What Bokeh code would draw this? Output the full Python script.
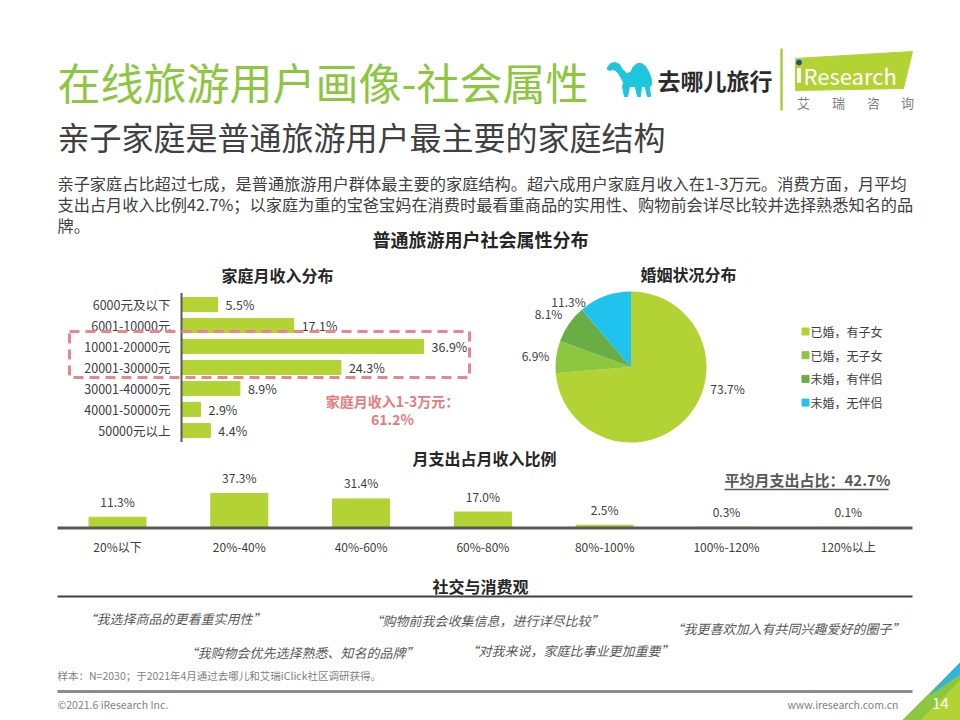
import numpy as np
from bokeh.plotting import figure
from bokeh.models import Range1d, ColumnDataSource
from bokeh.layouts import column, row
from bokeh.core.properties import value
from bokeh.embed import file_html
from bokeh.resources import INLINE

FONT = "Noto Sans CJK SC"

# ---------------- data ----------------
income_cats = ["6000元及以下", "6001-10000元", "10001-20000元", "20001-30000元",
               "30001-40000元", "40001-50000元", "50000元以上"]
income_vals = [5.5, 17.1, 36.9, 24.3, 8.9, 2.9, 4.4]
income_highlight = 61.2

marital_cats = ["已婚，有子女", "已婚，无子女", "未婚，有伴侣", "未婚，无伴侣"]
marital_vals = [73.7, 6.9, 8.1, 11.3]

spend_cats = ["20%以下", "20%-40%", "40%-60%", "60%-80%", "80%-100%", "100%-120%", "120%以上"]
spend_vals = [11.3, 37.3, 31.4, 17.0, 2.5, 0.3, 0.1]
avg_spend = 42.7

quotes = ["“我选择商品的更看重实用性”", "“购物前我会收集信息，进行详尽比较”",
          "“我更喜欢加入有共同兴趣爱好的圈子”", "“我购物会优先选择熟悉、知名的品牌”",
          "“对我来说，家庭比事业更加重要”"]

title_text = "在线旅游用户画像-社会属性"
subtitle_text = "亲子家庭是普通旅游用户最主要的家庭结构"
para_lines = ["亲子家庭占比超过七成，是普通旅游用户群体最主要的家庭结构。超六成用户家庭月收入在1-3万元。消费方面，月平均",
              "支出占月收入比例42.7%；以家庭为重的宝爸宝妈在消费时最看重商品的实用性、购物前会详尽比较并选择熟悉知名的品",
              "牌。"]
footnote = "样本：N=2030；于2021年4月通过去哪儿和艾瑞iClick社区调研获得。"

# ---------------- style ----------------
GREEN = "#B3D234"
TITLE_GREEN = "#8DC63F"
DARK = "#404040"
PIE_COLORS = ["#B3D234", "#8DC63F", "#68AD45", "#1FC3EE"]
PINK = "#E9868B"


def make_fig(x0, x1, y0, y1, x_range=None, y_range=None):
    p = figure(width=x1 - x0, height=y1 - y0, output_backend="svg", toolbar_location=None,
               tools="",
               x_range=x_range if x_range is not None else Range1d(x0, x1),
               y_range=y_range if y_range is not None else Range1d(y1, y0),
               x_axis_location=None, y_axis_location=None, min_border=0,
               outline_line_color=None, background_fill_color="white",
               border_fill_color="white")
    p.extra_x_ranges = {"px": Range1d(x0, x1)}
    p.extra_y_ranges = {"py": Range1d(y1, y0)}
    p.grid.visible = False
    return p


def txt(p, x, y, s, size, color=DARK, align="left", baseline="middle", style="normal"):
    p.text(x=[x], y=[y], text=[s], text_font=value(FONT), text_font_size=f"{size}px",
           text_color=color, text_align=align, text_baseline=baseline,
           text_font_style=style, x_range_name="px", y_range_name="py")


W = 960
Y_HEAD, Y_ROW, Y_SPEND, Y_FOOT, Y_END = 0, 258, 444, 562, 720
X_SPLIT = 498

# ---------------- header ----------------
hd = make_fig(0, W, Y_HEAD, Y_ROW)
txt(hd, 57, 80, title_text, 43, TITLE_GREEN)
txt(hd, 57, 135, subtitle_text, 32, DARK)
for i, line in enumerate(para_lines):
    txt(hd, 57, 182 + 21 * i, line, 16.2, DARK)
txt(hd, 480, 238, "普通旅游用户社会属性分布", 18, "#262626", align="center", style="bold")

# camel logo
camel_x = [607, 610, 615, 619, 622, 626, 630, 633, 637, 641, 645, 648, 650, 651, 651, 649, 650,
           647, 645, 645, 641, 640, 637, 635, 634, 629, 627, 624, 622, 623, 621, 618, 615, 612, 609, 607]
camel_y = [67, 63, 62, 64, 69, 73, 72, 66, 63, 63, 66, 71, 76, 80, 84, 87, 96,
           96, 88, 86, 86, 96, 96, 87, 86, 86, 96, 96, 86, 82, 78, 73, 70, 69, 70, 69]
hd.patch(camel_x, camel_y, color="#1DC6DA", x_range_name="px", y_range_name="py")
txt(hd, 657, 79, "去哪儿旅行", 23, "#2B2B2B", style="bold")
hd.segment(x0=[781], y0=[48], x1=[781], y1=[110], line_color="#A9CF38", line_width=2.5,
           x_range_name="px", y_range_name="py")
hd.patch([795, 912, 903, 795], [58, 51, 88, 90], color="#B3D234",
         x_range_name="px", y_range_name="py")
hd.quad(left=[797], right=[800], top=[68], bottom=[82], color="white",
        x_range_name="px", y_range_name="py")
hd.scatter(x=[798.5], y=[62], size=5, color="#1F4E9A", x_range_name="px", y_range_name="py")
txt(hd, 803, 74, "Research", 22, "white")
for cx, ch in zip([803, 838, 873, 907], "艾瑞咨询"):
    txt(hd, cx, 102, ch, 13, "#7F7F7F", align="center")

# ---------------- income bar chart ----------------
PX_PER_PCT = 6.56
AX_X = 181
ROW_H = 21
ROW0 = 304
inc = make_fig(0, X_SPLIT, Y_ROW, Y_SPEND,
               x_range=Range1d((0 - AX_X) / PX_PER_PCT, (X_SPLIT - AX_X) / PX_PER_PCT),
               y_range=Range1d((Y_SPEND - ROW0) / ROW_H, (Y_ROW - ROW0) / ROW_H))
n_inc = len(income_cats)
src_inc = ColumnDataSource(dict(y=list(range(n_inc)), v=income_vals, cat=income_cats,
                                lab=[f"{v}%" for v in income_vals]))
inc.hbar(y="y", left=0, right="v", height=0.67, source=src_inc, color=GREEN)
inc.segment(x0=[0], x1=[0], y0=[-0.55], y1=[n_inc - 0.45], line_color="#595959", line_width=2)
inc.text(x=0, y="y", text="cat", source=src_inc, x_offset=-11, text_align="right",
         text_baseline="middle", text_font=value(FONT), text_font_size="12.5px", text_color=DARK)
inc.text(x="v", y="y", text="lab", source=src_inc, x_offset=8, text_align="left",
         text_baseline="middle", text_font=value(FONT), text_font_size="12.5px", text_color=DARK)
txt(inc, 277, 274, "家庭月收入分布", 16, "#262626", align="center", style="bold")
inc.quad(left=[69], right=[469], top=[331], bottom=[377], fill_color=None, line_color=PINK,
         line_width=3, line_dash="10 6", x_range_name="px", y_range_name="py")
txt(inc, 392, 400, "家庭月收入1-3万元：", 14, "#E57B80", align="center", style="bold")
txt(inc, 392, 418, f"{income_highlight}%", 14, "#E57B80", align="center", style="bold")

# ---------------- marital pie ----------------
PCX, PCY, PR = 630.5, 366.5, 75.5
pie = make_fig(X_SPLIT, W, Y_ROW, Y_SPEND,
               x_range=Range1d(X_SPLIT - PCX, W - PCX),
               y_range=Range1d(PCY - Y_SPEND, PCY - Y_ROW))
frac = np.array(marital_vals) / np.sum(marital_vals)
cum = np.concatenate([[0.0], np.cumsum(frac)])
src_pie = ColumnDataSource(dict(start=np.pi / 2 - 2 * np.pi * cum[:-1],
                                end=np.pi / 2 - 2 * np.pi * cum[1:],
                                color=PIE_COLORS, cat=marital_cats))
pie.wedge(x=0, y=0, radius=PR, start_angle="start", end_angle="end", direction="clock",
          fill_color="color", line_color=None, source=src_pie)
pie_label_pos = [(727, 388), (535, 355), (548, 313), (568, 301)]
for (lx, ly), v in zip(pie_label_pos, marital_vals):
    txt(pie, lx, ly, f"{v}%", 12, DARK, align="center")
txt(pie, 688, 273, "婚姻状况分布", 16, "#262626", align="center", style="bold")
LEG_Y0, LEG_DY = 331, 23.7
leg_y = [LEG_Y0 + LEG_DY * i for i in range(len(marital_cats))]
pie.scatter(x=[805] * len(marital_cats), y=leg_y, marker="square", size=7, color=PIE_COLORS,
            x_range_name="px", y_range_name="py")
for yy, c in zip(leg_y, marital_cats):
    txt(pie, 810, yy, c, 12, DARK)

# ---------------- spend chart ----------------
COL_W = 121.8
COL0 = 117
BASE_Y = 527
PX_PER_PCT_V = 0.91
sp = make_fig(0, W, Y_SPEND, Y_FOOT,
              x_range=Range1d((0 - COL0) / COL_W, (W - COL0) / COL_W),
              y_range=Range1d(-(Y_FOOT - BASE_Y) / PX_PER_PCT_V, (BASE_Y - Y_SPEND) / PX_PER_PCT_V))
n_sp = len(spend_cats)
src_sp = ColumnDataSource(dict(x=list(range(n_sp)), v=spend_vals, cat=spend_cats,
                               lab=[f"{v:.1f}%" for v in spend_vals]))
sp.vbar(x="x", bottom=0, top="v", width=0.468, source=src_sp, color=GREEN)
sp.segment(x0=[57], x1=[912], y0=[BASE_Y + 0.5], y1=[BASE_Y + 0.5], line_color="#595959",
           line_width=3, x_range_name="px", y_range_name="py")
sp.text(x="x", y="v", text="lab", source=src_sp, y_offset=-16, text_align="center",
        text_baseline="middle", text_font=value(FONT), text_font_size="12px", text_color=DARK)
sp.text(x="x", y=0, text="cat", source=src_sp, y_offset=19, text_align="center",
        text_baseline="middle", text_font=value(FONT), text_font_size="12px", text_color=DARK)
txt(sp, 484, 457, "月支出占月收入比例", 16, "#262626", align="center", style="bold")
txt(sp, 724, 479, f"平均月支出占比：{avg_spend}%", 15, "#595959", style="bold")
sp.segment(x0=[724], x1=[888], y0=[489], y1=[489], line_color="#595959", line_width=1.5,
           x_range_name="px", y_range_name="py")

# ---------------- footer ----------------
ft = make_fig(0, W, Y_FOOT, Y_END)
txt(ft, 480, 585, "社交与消费观", 16, "#262626", align="center", style="bold")
ft.segment(x0=[57], x1=[912], y0=[596], y1=[596], line_color="#404040", line_width=2)
quote_pos = [(174, 618), (486, 620), (787, 628), (301, 652), (569, 650)]
for (qx, qy), q in zip(quote_pos, quotes):
    txt(ft, qx, qy, q, 13, "#595959", align="center", style="italic")
txt(ft, 57, 675, footnote, 10.5, "#7F7F7F")
ft.segment(x0=[57], x1=[912], y0=[691], y1=[691], line_color="#8C8C8C", line_width=3)
txt(ft, 57, 704, "©2021.6 iResearch Inc.", 10.5, "#7F7F7F")
txt(ft, 898, 704, "www.iresearch.com.cn", 10.5, "#7F7F7F", align="right")
ft.patch([902, 960, 960], [720, 662, 720], color="#8DC63F")
ft.patch([920, 960, 960], [720, 680, 720], color="#B3D234")
ft.patch([930, 960, 960], [694, 662, 673], color="#2CB5E8")
txt(ft, 940, 703, "14", 15, "white", align="center")

layout = column(hd, row(inc, pie), sp, ft)
open("out.html", "w").write(file_html(layout, INLINE))
